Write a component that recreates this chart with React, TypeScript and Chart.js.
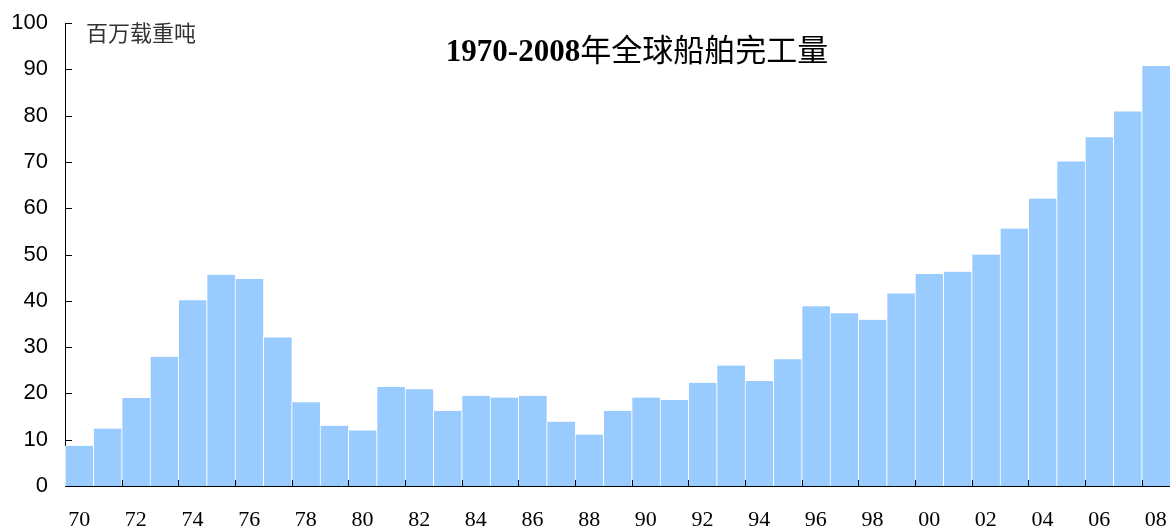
import { useEffect, useRef } from "react";
import { Chart, registerables } from "chart.js";

Chart.register(...registerables);

const categories = [
  "70", "71", "72", "73", "74", "75", "76", "77", "78", "79",
  "80", "81", "82", "83", "84", "85", "86", "87", "88", "89",
  "90", "91", "92", "93", "94", "95", "96", "97", "98", "99",
  "00", "01", "02", "03", "04", "05", "06", "07", "08",
];

const completions = [
  8.7, 12.4, 19.0, 27.9, 40.1, 45.6, 44.7, 32.1, 18.1, 13.0,
  12.0, 21.4, 20.9, 16.2, 19.5, 19.1, 19.5, 13.9, 11.1, 16.2,
  19.1, 18.6, 22.3, 26.0, 22.7, 27.4, 38.8, 37.3, 35.9, 41.6,
  45.8, 46.3, 50.0, 55.6, 62.1, 70.1, 75.3, 80.9, 90.7,
];

const tickLabels = [
  "70", "72", "74", "76", "78", "80", "82", "84", "86", "88",
  "90", "92", "94", "96", "98", "00", "02", "04", "06", "08",
];

const titleLatin = "1970-2008";
const titleCJK = "年全球船舶完工量";
const unitLabel = "百万载重吨";

const decor = {
  id: "decor",
  afterDraw(chart: any) {
    const { ctx, chartArea, scales } = chart;
    const x = scales.x;
    const y = scales.y;
    ctx.save();
    ctx.strokeStyle = "#000";
    ctx.lineWidth = 1;
    ctx.beginPath();
    y.ticks.forEach((t: any) => {
      const py = Math.round(y.getPixelForValue(t.value)) + 0.5;
      ctx.moveTo(chartArea.left, py);
      ctx.lineTo(chartArea.left + 7, py);
    });
    for (let i = 1; i < categories.length; i++) {
      if (!tickLabels.includes(categories[i])) continue;
      const px = Math.round((x.getPixelForValue(i - 1) + x.getPixelForValue(i)) / 2) + 0.5;
      ctx.moveTo(px, chartArea.bottom);
      ctx.lineTo(px, chartArea.bottom - 6);
    }
    ctx.stroke();

    // title
    ctx.fillStyle = "#000";
    ctx.textBaseline = "alphabetic";
    ctx.textAlign = "left";
    const latinFont = "bold 31px 'Liberation Serif', 'Times New Roman', serif";
    const cjkFont = "31px 'Noto Sans CJK SC', sans-serif";
    ctx.font = latinFont;
    const w1 = ctx.measureText(titleLatin).width;
    ctx.font = cjkFont;
    const w2 = ctx.measureText(titleCJK).width;
    const start = 637 - (w1 + w2) / 2;
    ctx.font = latinFont;
    ctx.fillText(titleLatin, start, 61);
    ctx.font = cjkFont;
    ctx.fillText(titleCJK, start + w1, 61);

    // unit
    ctx.font = "22px 'Noto Sans CJK SC', sans-serif";
    ctx.fillStyle = "#333";
    ctx.textBaseline = "middle";
    ctx.fillText(unitLabel, 86, 33);
    ctx.restore();
  },
};

export default function App() {
  const ref = useRef<HTMLCanvasElement>(null);
  useEffect(() => {
    document.body.style.margin = "0";
    const chart = new Chart(ref.current!, {
      type: "bar",
      data: {
        labels: categories,
        datasets: [
          {
            data: completions,
            backgroundColor: "#9ACBFE",
            borderColor: "#FFFFFF",
            borderWidth: { left: 1, right: 0, top: 0, bottom: 0 } as any,
            borderSkipped: false,
            barPercentage: 1,
            categoryPercentage: 1,
          },
        ],
      },
      options: {
        animation: false,
        responsive: true,
        maintainAspectRatio: false,
        layout: { padding: { top: 23, right: 0, left: 0, bottom: 0 } },
        plugins: {
          legend: { display: false },
          tooltip: { enabled: false },
          title: { display: false },
        },
        scales: {
          x: {
            z: 1,
            grid: { display: false, drawTicks: false },
            border: { display: true, color: "#000", width: 1 },
            afterFit: (s: any) => {
              s.height = 43;
              s.paddingLeft = 0;
              s.paddingRight = 0;
            },
            ticks: {
              autoSkip: false,
              maxRotation: 0,
              padding: 21,
              color: "#000",
              font: { family: "'Liberation Serif', 'Times New Roman', serif", size: 22 },
              callback: (_v: any, i: number) =>
                tickLabels.includes(categories[i]) ? categories[i] : "",
            },
          },
          y: {
            z: 1,
            min: 0,
            max: 100,
            grid: { display: false, drawTicks: false },
            border: { display: true, color: "#000", width: 1 },
            afterFit: (s: any) => {
              s.width = 65;
              s.paddingTop = 0;
              s.paddingBottom = 0;
            },
            ticks: {
              stepSize: 10,
              padding: 17,
              color: "#000",
              font: { family: "'Liberation Sans', Arial, sans-serif", size: 22 },
            },
          },
        },
      },
      plugins: [decor],
    });
    return () => chart.destroy();
  }, []);
  return (
    <div style={{ position: "absolute", left: 0, top: 0, width: 1170, height: 529 }}>
      <canvas ref={ref} />
    </div>
  );
}
